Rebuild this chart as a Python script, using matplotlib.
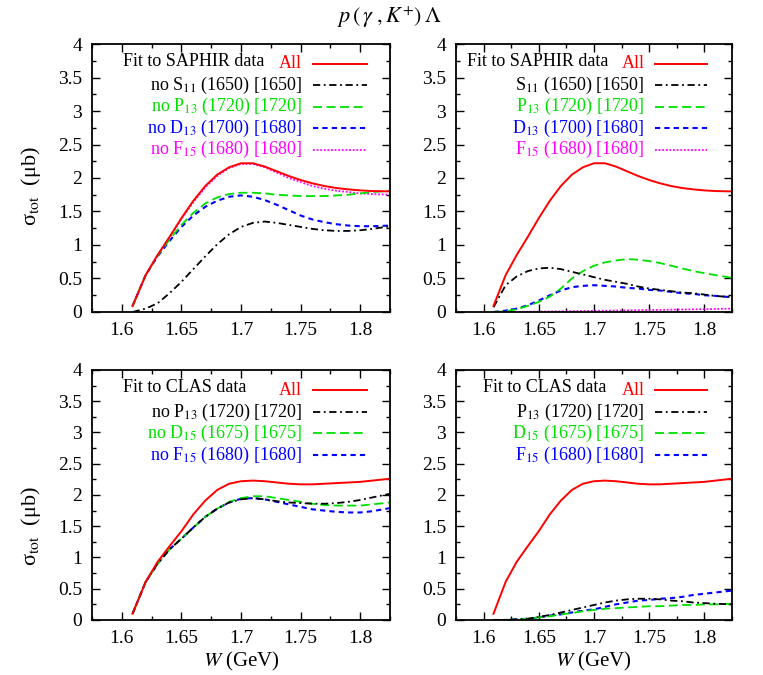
import matplotlib
matplotlib.use("Agg")
import matplotlib.pyplot as plt
from matplotlib.ticker import MultipleLocator

plt.rcParams['font.family'] = ['Liberation Serif', 'DejaVu Serif']
plt.rcParams['mathtext.fontset'] = 'stix'

# W grid (GeV), shared by all curves
W = [1.609, 1.62, 1.63, 1.64, 1.65, 1.66, 1.67, 1.68, 1.69, 1.70, 1.71,
     1.72, 1.73, 1.74, 1.75, 1.76, 1.77, 1.78, 1.79, 1.80, 1.81, 1.825]

# SAPHIR fit
saphir_all = [0.09, 0.55, 0.85, 1.12, 1.40, 1.66, 1.88, 2.05, 2.16, 2.22, 2.22,
              2.17, 2.10, 2.03, 1.97, 1.92, 1.88, 1.85, 1.83, 1.815, 1.805, 1.80]
saphir_no_s11 = [0.0, 0.05, 0.13, 0.28, 0.45, 0.64, 0.83, 1.01, 1.16, 1.27, 1.33,
                 1.35, 1.33, 1.30, 1.27, 1.24, 1.22, 1.21, 1.21, 1.22, 1.24, 1.28]
saphir_no_p13 = [0.09, 0.55, 0.84, 1.08, 1.30, 1.48, 1.62, 1.71, 1.76, 1.78, 1.78,
                 1.77, 1.75, 1.74, 1.73, 1.73, 1.73, 1.74, 1.75, 1.77, 1.79, 1.81]
saphir_no_d13 = [0.09, 0.55, 0.83, 1.06, 1.27, 1.44, 1.57, 1.66, 1.72, 1.74, 1.72,
                 1.67, 1.60, 1.52, 1.44, 1.38, 1.34, 1.31, 1.29, 1.28, 1.28, 1.29]
saphir_no_f15 = [0.09, 0.55, 0.85, 1.11, 1.39, 1.64, 1.86, 2.03, 2.15, 2.21, 2.21,
                 2.16, 2.08, 2.00, 1.94, 1.88, 1.84, 1.81, 1.79, 1.77, 1.76, 1.75]
saphir_s11 = [0.07, 0.40, 0.53, 0.61, 0.65, 0.66, 0.64, 0.60, 0.56, 0.52, 0.48,
              0.45, 0.42, 0.38, 0.35, 0.33, 0.31, 0.29, 0.28, 0.26, 0.24, 0.22]
saphir_p13 = [0.0, 0.01, 0.04, 0.09, 0.15, 0.23, 0.35, 0.50, 0.61, 0.69, 0.74,
              0.77, 0.79, 0.78, 0.76, 0.73, 0.69, 0.65, 0.61, 0.58, 0.55, 0.51]
saphir_d13 = [0.0, 0.02, 0.05, 0.10, 0.17, 0.25, 0.32, 0.37, 0.39, 0.40, 0.39,
              0.38, 0.36, 0.35, 0.33, 0.32, 0.30, 0.28, 0.27, 0.25, 0.24, 0.22]
saphir_f15 = [0.0, 0.0, 0.0, 0.003, 0.005, 0.008, 0.01, 0.012, 0.015, 0.018, 0.02,
              0.022, 0.025, 0.027, 0.03, 0.032, 0.035, 0.037, 0.04, 0.042, 0.045, 0.05]

# CLAS fit
clas_all = [0.10, 0.61, 0.93, 1.18, 1.42, 1.69, 1.91, 2.08, 2.18, 2.22, 2.23,
            2.22, 2.20, 2.18, 2.17, 2.17, 2.18, 2.19, 2.20, 2.21, 2.23, 2.26]
clas_no_p13 = [0.10, 0.61, 0.90, 1.13, 1.30, 1.48, 1.65, 1.78, 1.88, 1.93, 1.95,
               1.93, 1.90, 1.88, 1.87, 1.86, 1.86, 1.87, 1.89, 1.92, 1.96, 2.02]
clas_no_d15 = [0.10, 0.61, 0.90, 1.13, 1.30, 1.48, 1.65, 1.78, 1.89, 1.95, 1.98,
               1.98, 1.95, 1.92, 1.89, 1.86, 1.84, 1.83, 1.83, 1.83, 1.85, 1.88]
clas_no_f15 = [0.10, 0.61, 0.90, 1.13, 1.30, 1.48, 1.65, 1.78, 1.88, 1.94, 1.95,
               1.93, 1.89, 1.85, 1.81, 1.77, 1.75, 1.73, 1.72, 1.72, 1.74, 1.79]
clas_p13 = [0.0, 0.0, 0.01, 0.02, 0.05, 0.08, 0.12, 0.16, 0.20, 0.24, 0.28,
            0.31, 0.33, 0.34, 0.34, 0.33, 0.31, 0.30, 0.28, 0.27, 0.26, 0.25]
clas_d15 = [0.0, 0.0, 0.01, 0.02, 0.04, 0.06, 0.09, 0.11, 0.14, 0.16, 0.18,
            0.19, 0.20, 0.21, 0.22, 0.22, 0.23, 0.24, 0.24, 0.25, 0.25, 0.26]
clas_f15 = [0.0, 0.0, 0.01, 0.02, 0.04, 0.07, 0.09, 0.12, 0.15, 0.17, 0.21,
            0.25, 0.28, 0.31, 0.32, 0.34, 0.35, 0.37, 0.40, 0.42, 0.44, 0.47]

RED, GREEN, BLUE, MAG = '#ff0000', '#00e000', '#0000ff', '#ff00ff'
styles = {
    'red': dict(color=RED, lw=1.4, ls='-'),
    'black': dict(color='black', lw=1.3, dashes=(4, 2, 1, 2)),
    'green': dict(color=GREEN, lw=1.3, dashes=(5, 2.5)),
    'blue': dict(color=BLUE, lw=1.5, dashes=(2.5, 2)),
    'mag': dict(color=MAG, lw=1.3, dashes=(1, 1)),
}

fig = plt.figure(figsize=(7.63, 6.75), dpi=100)
ax_tl = fig.add_axes([0.1206, 0.5378, 0.3906, 0.397])
ax_tr = fig.add_axes([0.5976, 0.5378, 0.3617, 0.397])
ax_bl = fig.add_axes([0.1206, 0.0815, 0.3906, 0.3704])
ax_br = fig.add_axes([0.5976, 0.0815, 0.3617, 0.3704])

panels = [
    (ax_tl, 'Fit to SAPHIR data', 0.103, 0.704, [
        ('All', saphir_all, 'red'),
        ('no S$_{11}$ (1650) [1650]', saphir_no_s11, 'black'),
        ('no P$_{13}$ (1720) [1720]', saphir_no_p13, 'green'),
        ('no D$_{13}$ (1700) [1680]', saphir_no_d13, 'blue'),
        ('no F$_{15}$ (1680) [1680]', saphir_no_f15, 'mag')]),
    (ax_tr, 'Fit to SAPHIR data', 0.04, 0.684, [
        ('All', saphir_all, 'red'),
        ('S$_{11}$ (1650) [1650]', saphir_s11, 'black'),
        ('P$_{13}$ (1720) [1720]', saphir_p13, 'green'),
        ('D$_{13}$ (1700) [1680]', saphir_d13, 'blue'),
        ('F$_{15}$ (1680) [1680]', saphir_f15, 'mag')]),
    (ax_bl, 'Fit to CLAS data', 0.103, 0.704, [
        ('All', clas_all, 'red'),
        ('no P$_{13}$ (1720) [1720]', clas_no_p13, 'black'),
        ('no D$_{15}$ (1675) [1675]', clas_no_d15, 'green'),
        ('no F$_{15}$ (1680) [1680]', clas_no_f15, 'blue')]),
    (ax_br, 'Fit to CLAS data', 0.098, 0.684, [
        ('All', clas_all, 'red'),
        ('P$_{13}$ (1720) [1720]', clas_p13, 'black'),
        ('D$_{15}$ (1675) [1675]', clas_d15, 'green'),
        ('F$_{15}$ (1680) [1680]', clas_f15, 'blue')]),
]

colors = {'red': RED, 'black': 'black', 'green': GREEN, 'blue': BLUE, 'mag': MAG}

for i, (ax, head, hx, tx, curves) in enumerate(panels):
    top = i < 2
    row_h = 21.5 / (268 if top else 250)
    y0 = 0.926 if top else 0.918
    # draw in reverse so red sits on top
    for label, vals, st in curves[::-1]:
        ax.plot(W, vals, **styles[st])
    ax.text(hx, y0 + 0.01, head, transform=ax.transAxes, fontsize=13,
            ha='left', va='center')
    line_x1 = tx + 0.038
    line_x2 = line_x1 + (0.181 if ax in (ax_tl, ax_bl) else 0.189)
    for k, (label, vals, st) in enumerate(curves):
        yy = y0 - k * row_h
        ax.text(tx, yy, label, transform=ax.transAxes, fontsize=13,
                color=colors[st], ha='right', va='center')
        ax.plot([line_x1, line_x2], [yy, yy], transform=ax.transAxes, **styles[st])

    ax.set_xlim(1.575, 1.825)
    ax.set_ylim(0, 4)
    ax.xaxis.set_minor_locator(MultipleLocator(0.025))
    ax.yaxis.set_minor_locator(MultipleLocator(0.25))
    ax.set_xticks([1.6, 1.65, 1.7, 1.75, 1.8])
    ax.set_xticklabels(['1.6', '1.65', '1.7', '1.75', '1.8'])
    ax.set_yticks([0, 0.5, 1, 1.5, 2, 2.5, 3, 3.5, 4])
    ax.set_yticklabels(['0', '0.5', '1', '1.5', '2', '2.5', '3', '3.5', '4'])
    ax.tick_params(which='both', direction='in', top=True, right=True,
                   labelsize=14, width=1.0)
    ax.tick_params(which='major', length=6, pad=7)
    ax.tick_params(which='minor', length=3)
    for sp in ax.spines.values():
        sp.set_linewidth(1.3)
    if not top:
        ax.set_xlabel('$W$ (GeV)', fontsize=15, labelpad=2)

ylab = 'σ$_{\\rm tot}$  (μb)'
fig.text(0.04, 0.725, ylab, rotation=90, fontsize=16, ha='center', va='center')
fig.text(0.04, 0.22, ylab, rotation=90, fontsize=16, ha='center', va='center')
fig.text(0.51, 0.975, r'$p\,(\,\gamma\;,K^{+})\,\Lambda$', fontsize=16,
         ha='center', va='center')

fig.savefig('out.png', dpi=100)
